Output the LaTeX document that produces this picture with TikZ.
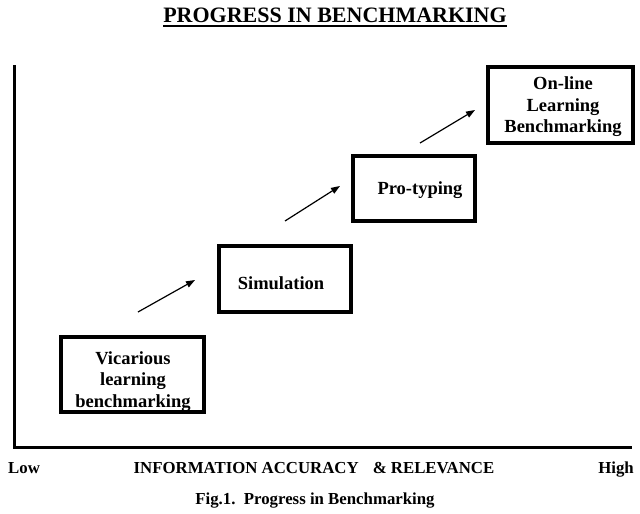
\documentclass[tikz,border=0pt]{standalone}
\usepackage{fontspec}
\setmainfont{Liberation Serif}
\usetikzlibrary{arrows.meta}
\begin{document}
\begin{tikzpicture}[x=1pt,y=-1pt,
  stage/.style={draw, line width=4pt, inner sep=0pt},
  stagetext/.style={align=center, font=\bfseries\fontsize{18.5}{21.5}\selectfont, inner sep=0pt},
  lbl/.style={font=\bfseries\fontsize{16.8}{18}\selectfont, inner sep=0pt},
  adv/.style={line width=1.2pt, -{Triangle[length=9pt,width=6.5pt]}}]
\useasboundingbox (0,0) rectangle (640,514);
% title
\node[font=\bfseries\fontsize{22}{24}\selectfont, inner sep=0pt] (title) at (335,15) {PROGRESS IN BENCHMARKING};
\draw[line width=2pt] (title.south west) ++(0,3) coordinate (ul1) -- (title.south east |- ul1);
% axes
\coordinate (top) at (14,65);
\coordinate (origin) at (14,447);
\coordinate (right) at (632,447);
\draw[line width=3pt] (top) -- (origin) -- (right);
% stages
\node[stage, minimum width=143pt, minimum height=75pt] (vic) at (132.5,374) {};
\node[stagetext] (vict) at (133,381.5) {Vicarious\\learning\\benchmarking};
\node[stage, minimum width=132pt, minimum height=66pt] (sim) at (284.5,278.5) {};
\node[stagetext] (simt) at (281,283) {Simulation};
\node[stage, minimum width=122pt, minimum height=65pt] (pro) at (413.5,188) {};
\node[stagetext] (prot) at (420,190) {Pro-typing};
\node[stage, minimum width=145pt, minimum height=76pt] (onl) at (560,104.5) {};
\node[stagetext] (onlt) at (563,107) {On-line\\Learning\\Benchmarking};
% arrows
\coordinate (a1s) at (138,312); \coordinate (a1e) at (195,280);
\coordinate (a2s) at (285,221); \coordinate (a2e) at (340,186);
\coordinate (a3s) at (420,143); \coordinate (a3e) at (475,110);
\draw[adv] (a1s) -- (a1e);
\draw[adv] (a2s) -- (a2e);
\draw[adv] (a3s) -- (a3e);
% axis labels
\node[lbl, anchor=base west] (low) at (8,473) {Low};
\node[lbl, anchor=base] (axis) at (314,473) {INFORMATION ACCURACY\hspace{14pt}\& RELEVANCE};
\node[lbl, anchor=base east] (high) at (634,473) {High};
\node[lbl, anchor=base] (fig) at (315,504) {Fig.1.\ \ Progress in Benchmarking};
\end{tikzpicture}
\end{document}
